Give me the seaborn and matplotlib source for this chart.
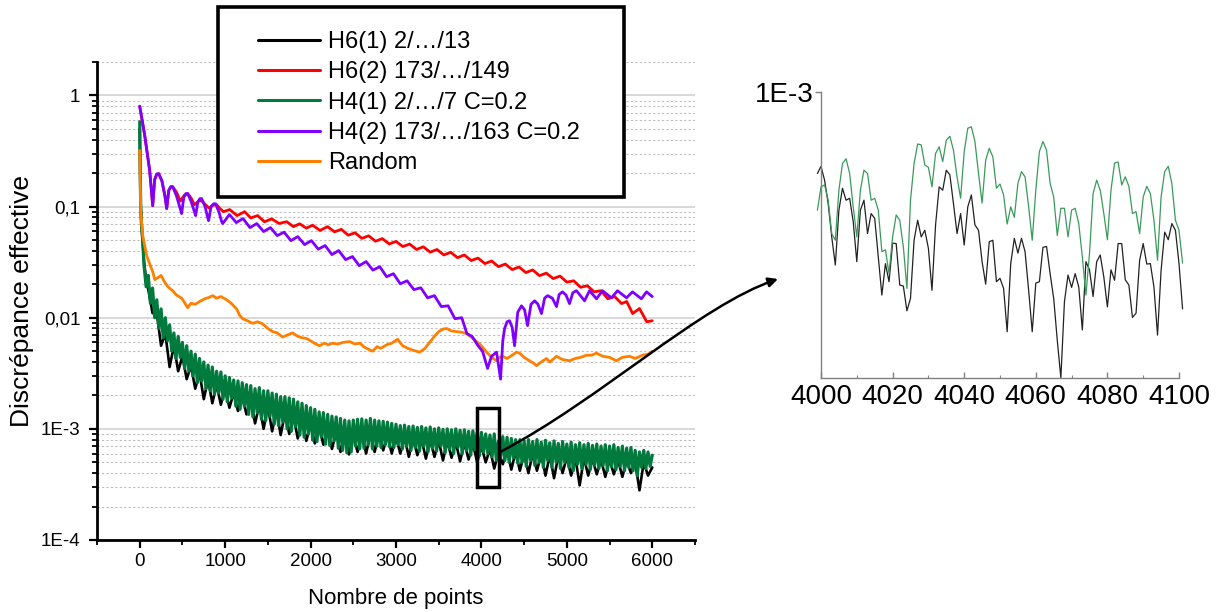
import numpy as np
import pandas as pd
import matplotlib
matplotlib.use('Agg')
import matplotlib.pyplot as plt
import seaborn as sns
from matplotlib.lines import Line2D
from matplotlib.path import Path
from matplotlib.patches import Rectangle, FancyArrowPatch
from matplotlib.ticker import LogLocator, MultipleLocator, NullFormatter

# ---- data, discrepancy values in units of 1E-3 ----

# H6(1) 2/.../13 (black, noisy)
black_x_start = [0, 3, 8, 12, 20, 35, 50, 75]
black_start = [500, 300, 140, 100, 68, 48, 32, 22]
black_step50 = [18, 11, 11, 5.6, 7.2, 3.6, 5.6, 3.3, 4.5, 2.8, 3.7, 2.3, 3.2, 1.85, 2.8, 1.7,
                2.5, 1.65, 2.3, 1.55, 2.1, 1.45, 1.95, 1.35, 1.8, 1.12, 1.65, 1.0, 1.6, 0.95,
                1.5, 0.88, 1.38, 0.9, 1.3, 0.82, 1.2, 0.78, 1.1, 0.74, 1.04, 0.72, 0.98, 0.66,
                0.93, 0.62, 0.87, 0.59, 0.88, 0.62, 0.9, 0.6, 0.9, 0.62, 0.9, 0.64, 0.88, 0.6,
                0.85, 0.6, 0.84, 0.56, 0.82, 0.58, 0.8, 0.54, 0.8, 0.56, 0.78, 0.52, 0.78, 0.55,
                0.76, 0.51, 0.75, 0.53, 0.74, 0.5, 0.7, 0.5, 0.66, 0.44, 0.62, 0.48, 0.64, 0.43,
                0.62, 0.42, 0.6, 0.40, 0.6, 0.42, 0.59, 0.38, 0.58, 0.36, 0.57, 0.40, 0.56, 0.38,
                0.55, 0.31, 0.55, 0.38, 0.54, 0.39, 0.53, 0.37, 0.53, 0.39, 0.52, 0.37, 0.52, 0.40,
                0.5, 0.28, 0.5, 0.38, 0.45]

# H4(1) 2/.../7 C=0.2 (green, noisy)
green_x_start = [0, 3, 8, 12, 20, 35]
green_start = [580, 330, 150, 102, 70, 50]
green_step25 = [30, 19, 24, 13.5, 18.5, 10, 14.5, 8.0, 12, 6.6, 10, 6.2, 8.6, 5.0, 7.3, 4.3,
                6.8, 4.4, 6.0, 3.5, 5.6, 3.3, 5.0, 3.0, 4.7, 2.6, 4.3, 2.7, 4.0, 2.3, 3.75, 2.2,
                3.6, 2.05, 3.3, 2.1, 3.25, 1.85, 3.0, 1.75, 2.9, 1.9, 2.75, 1.6, 2.7, 1.5, 2.6,
                1.6, 2.5, 1.35, 2.45, 1.28, 2.3, 1.4, 2.35, 1.22, 2.2, 1.18, 2.2, 1.3, 2.1, 1.1,
                2.05, 1.07, 1.95, 1.15, 1.95, 1.0, 1.9, 0.95, 1.85, 1.05, 1.75, 0.88, 1.7, 0.84,
                1.62, 0.9, 1.55, 0.79, 1.5, 0.77, 1.42, 0.85, 1.4, 0.73, 1.35, 0.71, 1.3, 0.78,
                1.28, 0.67, 1.24, 0.64, 1.2, 0.61, 1.18, 0.62, 1.2, 0.7, 1.22, 0.66, 1.23, 0.67,
                1.2, 0.72, 1.24, 0.66, 1.2, 0.7, 1.18, 0.68, 1.17, 0.72, 1.15, 0.69, 1.12, 0.68,
                1.1, 0.72, 1.07, 0.66, 1.08, 0.7, 1.05, 0.64, 1.06, 0.68, 1.03, 0.63, 1.05, 0.7,
                1.02, 0.62, 1.04, 0.67, 1.0, 0.63, 1.02, 0.7, 0.99, 0.61, 1.0, 0.66, 0.98, 0.6,
                1.0, 0.68, 0.97, 0.6, 0.98, 0.64, 0.95, 0.58, 0.96, 0.65, 0.93, 0.57, 0.93, 0.62,
                0.9, 0.6, 0.88, 0.56, 0.9, 0.52, 0.78, 0.55, 0.85, 0.52, 0.84, 0.5, 0.82, 0.55,
                0.8, 0.49, 0.8, 0.5, 0.78, 0.46, 0.8, 0.52, 0.77, 0.47, 0.8, 0.5, 0.76, 0.45,
                0.79, 0.52, 0.75, 0.45, 0.78, 0.5, 0.74, 0.44, 0.77, 0.5, 0.73, 0.45, 0.76, 0.42,
                0.72, 0.48, 0.75, 0.44, 0.72, 0.48, 0.74, 0.43, 0.71, 0.47, 0.73, 0.44, 0.7, 0.47,
                0.72, 0.42, 0.7, 0.46, 0.72, 0.43, 0.68, 0.46, 0.7, 0.42, 0.67, 0.45, 0.68, 0.42,
                0.64, 0.38, 0.62, 0.45, 0.64, 0.44, 0.62, 0.46, 0.58]

# H6(2) 173/.../149 (red)
red_x = [0, 58, 117, 152, 175, 200, 222, 260, 295, 316, 340, 365, 386, 430, 475, 520, 561,
         600, 640, 690, 725, 770, 810, 860, 900, 940, 980, 1053, 1140, 1228, 1300, 1380, 1460,
         1544, 1630, 1720, 1800, 1872, 1950, 2024, 2110, 2199, 2280, 2360, 2440, 2520, 2600,
         2680, 2760, 2840, 2920, 3000, 3080, 3160, 3240, 3320, 3400, 3480, 3560, 3640, 3720,
         3800, 3880, 3960, 4040, 4120, 4200, 4280, 4360, 4440, 4520, 4600, 4680, 4760, 4840,
         4920, 5000, 5080, 5160, 5240, 5320, 5400, 5480, 5560, 5640, 5700, 5770, 5850, 5935,
         6000]
red_vals = [800, 440, 210, 102, 175, 196, 198, 170, 125, 96, 140, 151, 151, 135, 112, 126,
            131, 120, 104, 112, 113, 104, 97, 103, 104, 96, 90, 94, 83, 90, 79, 83, 73, 77.6,
            70.5, 73.1, 66, 70, 64, 68, 61, 66, 59.3, 62.4, 55.3, 58.1, 51.8, 54.6, 48.8, 51.5,
            46.1, 48.6, 43.7, 46.0, 41.1, 43.5, 38.9, 41.1, 36.7, 38.8, 34.7, 36.7, 32.7, 34.4,
            30.7, 32.4, 28.8, 30.4, 27.1, 28.6, 25.5, 26.9, 23.9, 25.2, 22.5, 23.7, 20.9, 21.5,
            18.8, 19.4, 17.1, 17.5, 14.8, 15.5, 13.4, 14.0, 10.9, 12.1, 9.2, 9.4]

# H4(2) 173/.../163 C=0.2 (purple)
purple_x = [0, 58, 117, 152, 175, 200, 222, 260, 295, 316, 340, 365, 386, 430, 470, 491, 515,
            540, 561, 600, 640, 655, 680, 705, 725, 765, 795, 807, 835, 865, 889, 930, 960, 971,
            1050, 1130, 1210, 1290, 1370, 1450, 1530, 1610, 1690, 1770, 1850, 1930, 2010, 2090,
            2170, 2250, 2330, 2410, 2490, 2570, 2650, 2730, 2810, 2890, 2970, 3050, 3130, 3210,
            3290, 3370, 3450, 3530, 3610, 3690, 3770, 3830, 3890, 3960, 4013, 4072, 4118, 4177,
            4224, 4250, 4271, 4300, 4329, 4360, 4388, 4425, 4469, 4505, 4540, 4580, 4622, 4660,
            4703, 4740, 4774, 4830, 4879, 4910, 4949, 4990, 5031, 5070, 5113, 5207, 5265, 5347,
            5417, 5522, 5593, 5698, 5768, 5873, 5932, 6000]
purple_vals = [800, 440, 210, 102, 175, 196, 198, 170, 125, 96, 140, 151, 151, 125, 98, 86.5,
               120, 131, 131, 112, 90, 83, 110, 118, 118, 100, 80, 74.8, 100, 106, 106, 88, 73,
               70.3, 84.8, 71.8, 78, 64.7, 70.3, 59.6, 64.7, 54.8, 58.9, 49.4, 53.7, 45.5, 49.4,
               41.4, 44.6, 37.0, 40.2, 33.3, 35.5, 29.4, 32.0, 26.8, 28.8, 23.4, 24.9, 20.2, 21.5,
               17.9, 18.6, 15.1, 15.8, 12.6, 12.8, 9.8, 10.0, 7.2, 6.8, 5.6, 5.0, 3.5, 4.5, 4.9,
               2.8, 6.2, 8.0, 9.2, 9.4, 8.2, 5.6, 11.2, 12.8, 11.8, 8.5, 13.2, 14.2, 13.3, 10.9,
               15.0, 15.8, 15.0, 12.6, 16.2, 17.1, 16.0, 13.4, 16.8, 17.5, 14.2, 17.5, 14.8, 17.5,
               15.1, 17.5, 15.1, 17.1, 14.8, 17.1, 15.5]

# Random (orange)
orange_x = [0, 12, 35, 82, 120, 152, 176, 250, 290, 330, 386, 430, 491, 530, 561, 600, 650,
            702, 760, 810, 854, 900, 950, 1018, 1070, 1135, 1170, 1205, 1260, 1322, 1380, 1439,
            1500, 1556, 1610, 1673, 1730, 1790, 1850, 1900, 1954, 2000, 2060, 2106, 2160, 2210,
            2258, 2320, 2380, 2457, 2520, 2580, 2620, 2656, 2726, 2780, 2820, 2890, 2950, 3019,
            3077, 3140, 3200, 3276, 3340, 3393, 3450, 3500, 3550, 3592, 3650, 3709, 3770, 3826,
            3880, 3943, 4000, 4060, 4120, 4177, 4210, 4247, 4300, 4360, 4411, 4446, 4500, 4563,
            4610, 4645, 4700, 4762, 4800, 4850, 4879, 4950, 5031, 5100, 5160, 5230, 5290, 5347,
            5420, 5499, 5580, 5650, 5733, 5800, 5885, 5950, 6000]
orange_vals = [320, 90, 55, 36, 30, 26, 22, 24, 21, 19, 17.5, 16, 15, 13.5, 12.3, 13.5, 13.2,
               14.0, 14.8, 15.2, 15.8, 15.0, 15.5, 14.5, 13.5, 12.0, 10.5, 9.8, 9.4, 8.9, 9.2,
               8.8, 8.0, 7.5, 7.3, 6.7, 7.0, 7.3, 6.8, 6.6, 6.5, 6.2, 5.8, 5.6, 5.9, 5.7, 5.9,
               5.8, 6.0, 6.1, 5.8, 5.9, 5.5, 5.3, 5.0, 5.5, 5.3, 5.7, 5.9, 6.4, 5.6, 5.3, 5.1,
               4.9, 5.3, 6.0, 6.8, 7.5, 7.9, 8.0, 7.6, 7.5, 7.4, 7.2, 6.7, 6.1, 5.6, 4.9, 4.4,
               4.1, 4.4, 4.5, 4.3, 4.6, 4.9, 4.8, 4.4, 4.1, 3.9, 3.7, 4.0, 4.3, 4.0, 4.3, 4.5,
               4.2, 4.1, 4.3, 4.4, 4.6, 4.6, 4.8, 4.5, 4.4, 4.1, 4.4, 4.5, 4.3, 4.6, 4.7, 5.0]

# zoom 4000..4100, values in units of 1E-4
zoom_green = [7.52, 8.01, 8.05, 7.73, 7.03, 6.89, 7.94, 8.50, 8.60, 8.29, 7.59, 6.96, 7.94,
              8.36, 8.29, 7.73, 7.77, 7.52, 6.65, 6.69, 6.19, 6.96, 7.42, 7.31, 6.75, 5.88,
              7.73, 8.50, 8.91, 8.89, 8.47, 8.42, 8.01, 8.71, 8.85, 8.54, 8.99, 9.07, 8.78,
              8.22, 7.77, 8.75, 9.24, 9.27, 8.96, 8.29, 7.67, 8.57, 8.82, 8.64, 7.98, 8.07,
              7.84, 7.23, 7.59, 7.37, 8.08, 8.33, 8.22, 7.59, 6.89, 7.94, 8.75, 8.96, 8.78,
              8.08, 7.80, 6.99, 7.56, 7.56, 6.96, 7.52, 7.56, 7.24, 6.54, 5.74, 6.61, 7.87,
              8.15, 7.94, 7.45, 6.90, 7.94, 8.51, 8.53, 8.05, 8.22, 8.02, 7.45, 7.49, 7.03,
              7.80, 8.02, 7.87, 7.31, 6.47, 7.80, 8.33, 8.44, 8.08, 7.31, 7.10, 6.41]
zoom_black = [8.29, 8.44, 8.15, 7.66, 6.96, 6.37, 7.52, 7.98, 7.73, 7.77, 7.28, 6.44, 7.52,
              7.73, 7.03, 7.45, 7.35, 6.54, 5.74, 6.40, 6.02, 6.83, 6.82, 5.95, 5.93, 5.41,
              5.67, 6.89, 7.31, 6.96, 7.10, 6.72, 5.84, 7.21, 8.01, 7.94, 8.36, 8.26, 7.66,
              7.03, 7.45, 6.79, 7.59, 7.84, 7.21, 7.10, 6.44, 5.97, 6.86, 6.89, 6.02, 6.09,
              5.88, 4.97, 6.40, 6.93, 6.62, 6.93, 6.65, 5.84, 4.97, 5.99, 6.02, 6.74, 6.76,
              6.19, 5.67, 4.79, 4.00, 5.60, 6.16, 5.90, 6.19, 5.91, 5.01, 6.44, 6.27, 5.71,
              6.44, 6.58, 6.12, 5.49, 6.27, 6.05, 6.82, 6.82, 6.06, 5.95, 5.27, 5.36, 6.47,
              6.82, 6.39, 6.40, 5.91, 4.90, 6.26, 7.06, 6.90, 7.24, 7.10, 6.40, 5.45]

labels = ['H6(1) 2/…/13', 'H6(2) 173/…/149', 'H4(1) 2/…/7 C=0.2',
          'H4(2) 173/…/163 C=0.2', 'Random']
colors = ['#000000', '#ff0000', '#007a3d', '#8000ff', '#ff8000']

# ---- build tables ----
black_x = black_x_start + list(range(100, 100 + 50 * len(black_step50), 50))
green_x = green_x_start + list(range(50, 50 + 25 * len(green_step25), 25))
dfs = {
    'black': pd.DataFrame({'x': black_x, 'y': np.array(black_start + black_step50) * 1e-3}),
    'green': pd.DataFrame({'x': green_x, 'y': np.array(green_start + green_step25) * 1e-3}),
    'red': pd.DataFrame({'x': red_x, 'y': np.array(red_vals) * 1e-3}),
    'orange': pd.DataFrame({'x': orange_x, 'y': np.array(orange_vals) * 1e-3}),
    'purple': pd.DataFrame({'x': purple_x, 'y': np.array(purple_vals) * 1e-3}),
}
zx = list(range(3999, 3999 + len(zoom_green)))
dz_green = pd.DataFrame({'x': zx, 'y': np.array(zoom_green) * 1e-4})
dz_black = pd.DataFrame({'x': zx, 'y': np.array(zoom_black) * 1e-4})

sns.set_theme(style='white')
plt.rcParams['font.family'] = ['Liberation Sans', 'DejaVu Sans']
plt.rcParams['text.color'] = 'black'
plt.rcParams['axes.labelcolor'] = 'black'
plt.rcParams['xtick.color'] = 'black'
plt.rcParams['ytick.color'] = 'black'

fig = plt.figure(figsize=(12.24, 6.12), dpi=100)
W, H = 1224, 612

# ---- main chart ----
ax = fig.add_axes([97 / W, 72 / H, 598 / W, 478 / H])
style = {'black': ('#000000', 1.9), 'green': ('#007a3d', 2.3), 'red': ('#ff0000', 2.0),
         'orange': ('#ff8000', 2.0), 'purple': ('#8000ff', 2.0)}
for key in ['black', 'green', 'red', 'orange', 'purple']:
    c, lw = style[key]
    sns.lineplot(data=dfs[key], x='x', y='y', ax=ax, color=c, lw=lw,
                 estimator=None, sort=False, legend=False)

ax.set_yscale('log')
ax.set_ylim(1e-4, 2.0)
ax.set_xlim(-500, 6500)
ax.set_yticks([1e-4, 1e-3, 1e-2, 1e-1, 1], labels=['1E-4', '1E-3', '0,01', '0,1', '1'])
ax.yaxis.set_minor_locator(LogLocator(base=10, subs=np.arange(2, 10)))
ax.yaxis.set_minor_formatter(NullFormatter())
ax.set_xticks(range(0, 6001, 1000))
ax.xaxis.set_minor_locator(MultipleLocator(500))

ax.yaxis.grid(True, which='major', color='#d6d6d6', lw=1.3)
ax.yaxis.grid(True, which='minor', color='#bdbdbd', lw=0.8, ls=(0, (2, 2)))
ax.xaxis.grid(False)
ax.set_axisbelow(True)

for s in ['top', 'right']:
    ax.spines[s].set_visible(False)
for s in ['left', 'bottom']:
    ax.spines[s].set_color('black')
    ax.spines[s].set_linewidth(2)
ax.tick_params(which='major', direction='out', length=6, width=1.6, labelsize=13.5,
               left=True, bottom=True)
ax.tick_params(axis='y', which='major', pad=6)
ax.tick_params(axis='x', which='major', pad=3)
ax.tick_params(which='minor', direction='out', length=3.5, width=1.3, left=True, bottom=True)
ax.set_xlabel('Nombre de points', fontsize=16, labelpad=13)
ax.set_ylabel('Discrépance effective', fontsize=19, labelpad=5)

# zoom box on the main chart
ax.add_patch(Rectangle((3953, 3.0e-4), 258, 1.55e-3 - 3.0e-4, fill=False,
                       ec='black', lw=2.5, zorder=5))

# ---- zoomed inset ----
ax2 = fig.add_axes([821 / W, 1 - 378 / H, 358 / W, 286 / H])
sns.lineplot(data=dz_black, x='x', y='y', ax=ax2, color='#222222', lw=0.9,
             estimator=None, sort=False, legend=False)
sns.lineplot(data=dz_green, x='x', y='y', ax=ax2, color='#3a9a5c', lw=0.9,
             estimator=None, sort=False, legend=False)
for ln in ax2.lines:
    ln.set_clip_on(False)
ax2.set_xlim(4000, 4100)
ax2.set_ylim(4e-4, 1e-3)
ax2.set_xticks(range(4000, 4101, 20))
ax2.xaxis.set_minor_locator(MultipleLocator(10))
ax2.set_yticks([1e-3], labels=['1E-3'])
ax2.set_xlabel('')
ax2.set_ylabel('')
for s in ['top', 'right']:
    ax2.spines[s].set_visible(False)
for s in ['left', 'bottom']:
    ax2.spines[s].set_color('#808080')
    ax2.spines[s].set_linewidth(1)
ax2.tick_params(axis='x', which='major', direction='in', length=4, width=1, color='#808080',
                labelsize=20, bottom=True, pad=4)
ax2.tick_params(axis='x', which='minor', direction='in', length=2.5, width=0.8,
                color='#808080', bottom=True)
ax2.tick_params(axis='y', which='major', direction='out', length=4, width=1, color='#808080',
                labelsize=20, left=True, pad=1)

# ---- curved arrow from the box to the inset ----
pts = [(500, 452), (600, 400), (700, 305), (778, 279)]
arrow_path = Path([(px / W, 1 - py / H) for px, py in pts],
                  [Path.MOVETO, Path.CURVE4, Path.CURVE4, Path.CURVE4])
arrow = FancyArrowPatch(path=arrow_path, transform=fig.transFigure,
                        arrowstyle='-|>', mutation_scale=14, lw=1.8, color='black')
fig.add_artist(arrow)

# ---- legend box ----
box = Rectangle((218 / W, 1 - 197 / H), 406 / W, 190 / H, transform=fig.transFigure,
                facecolor='white', edgecolor='black', lw=2.6, zorder=3)
fig.add_artist(box)
handles = [Line2D([], [], color=c, lw=2.2) for c in colors]
leg = fig.legend(handles, labels, loc='upper left', bbox_to_anchor=(258 / W, 1 - 31 / H),
                 frameon=False, fontsize=17, handlelength=2.63, handletextpad=0.34,
                 labelspacing=0.35, borderpad=0, borderaxespad=0)
leg.set_zorder(4)

fig.savefig('out.png', dpi=100)
